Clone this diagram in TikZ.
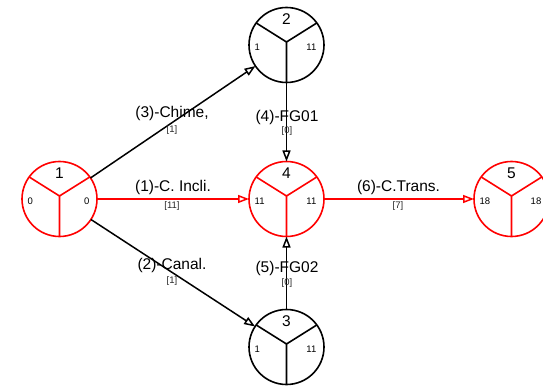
\documentclass[tikz,border=0pt]{standalone}
\usepackage{fontspec}
\setmainfont{Liberation Sans}
\usetikzlibrary{arrows.meta}
\definecolor{evred}{RGB}{255,0,0}
\tikzset{
  event/.style={circle, draw, line width=1.6pt, minimum size=75pt, inner sep=0pt, outer sep=0pt},
  evnum/.style={font=\fontsize{15.5}{17}\selectfont, inner sep=0pt},
  evside/.style={font=\fontsize{9.5}{11}\selectfont, inner sep=0pt},
  act/.style={line width=1.5pt, -{Triangle[open, length=11pt, width=8pt]}},
  actname/.style={font=\fontsize{15.5}{17}\selectfont, inner sep=0pt},
  actdur/.style={font=\fontsize{9.5}{11}\selectfont, inner sep=0pt, text=black!85},
}
% event circle with its Y split, number and early/late times
\newcommand{\evsplit}[5]{%
  \draw[line width=1.6pt, #2] ([yshift=3pt]#1.center) -- (#1.36)
    ([yshift=3pt]#1.center) -- (#1.144)
    ([yshift=3pt]#1.center) -- (#1.south);
  \node[evnum] (#1-no) at ([yshift=26pt]#1.center) {#3};
  \node[evside, anchor=west] (#1-es) at ([xshift=-32pt,yshift=-2pt]#1.center) {#4};
  \node[evside, anchor=east] (#1-lf) at ([xshift=30pt,yshift=-2pt]#1.center) {#5};
}
\begin{document}
\begin{tikzpicture}[x=1pt,y=-1pt]
\useasboundingbox (0,0) rectangle (543,390);

% events
\node[event, draw=evred] (n1) at (59.5,199) {};
\node[event] (n2) at (286.5,45) {};
\node[event, draw=evred] (n4) at (286.5,199) {};
\node[event] (n3) at (286.5,347) {};
\node[event, draw=evred] (n5) at (511.5,199) {};

\evsplit{n1}{evred}{1}{0}{0}
\evsplit{n2}{black}{2}{1}{11}
\evsplit{n4}{evred}{4}{11}{11}
\evsplit{n3}{black}{3}{1}{11}
\evsplit{n5}{evred}{5}{18}{18}

% activities
\draw[act] (n1) -- (n2);
\draw[act, evred] (n1) -- (n4);
\draw[act] (n1) -- (n3);
\draw[act] (n2) -- (n4);
\draw[act] (n3) -- (n4);
\draw[act, evred] (n4) -- (n5);

% activity labels and durations
\node[actname] (a3) at (172,113) {(3)-Chime,};
\node[actdur] (d3) at (172,130) {[1]};
\node[actname] (a1) at (173,187.5) {(1)-C. Incli.};
\node[actdur] (d1) at (172,206.5) {[11]};
\node[actname] (a2) at (172,265) {(2)-Canal.};
\node[actdur] (d2) at (172,281) {[1]};
\node[actname] (a4) at (287,117) {(4)-FG01};
\node[actdur] (d4) at (287,131) {[0]};
\node[actname] (a5) at (287,268) {(5)-FG02};
\node[actdur] (d5) at (287,283) {[0]};
\node[actname] (a6) at (398.5,187.5) {(6)-C.Trans.};
\node[actdur] (d6) at (398,206.5) {[7]};
\end{tikzpicture}
\end{document}
